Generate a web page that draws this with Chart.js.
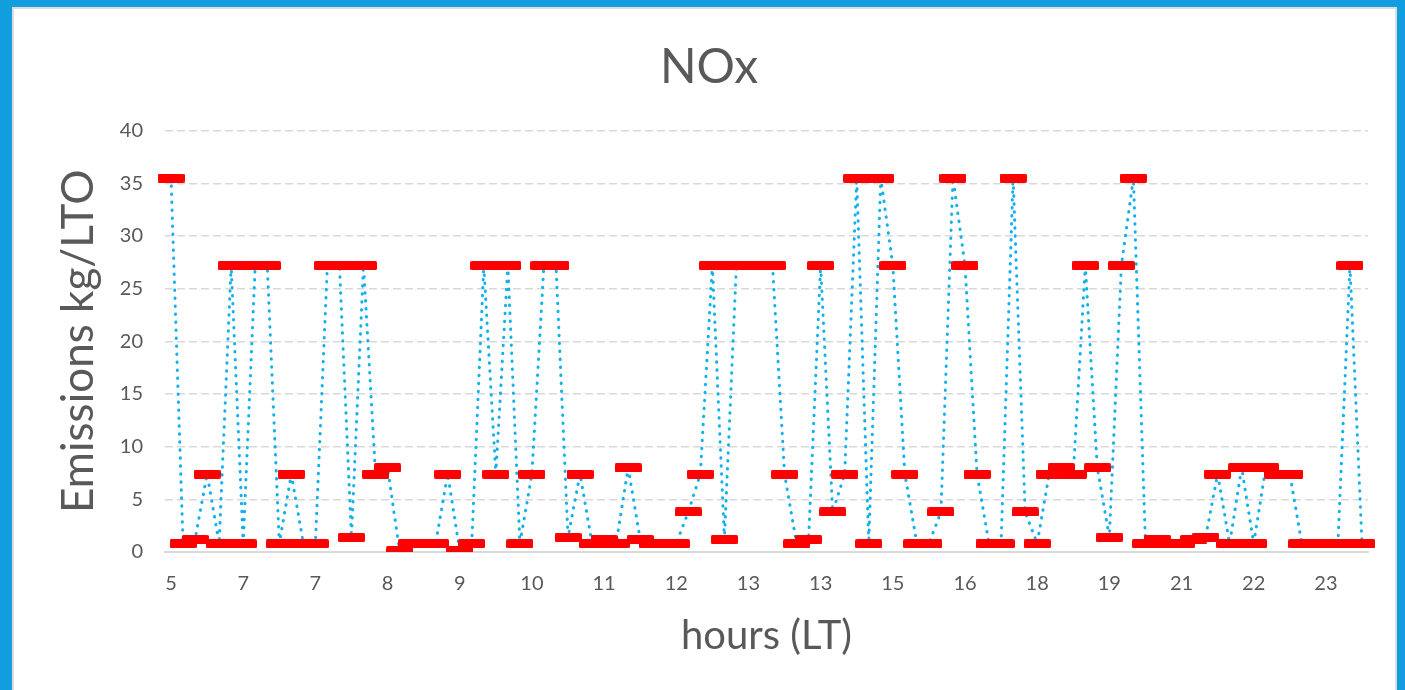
<!DOCTYPE html>
<html>
<head>
    <title>NOx</title>
    <script src="https://cdn.jsdelivr.net/npm/chart.js@4.4.1/dist/chart.umd.min.js"></script>
    <style>
        html, body { margin: 0; padding: 0; }
        body { width: 1405px; height: 690px; background: #129ddf; position: relative; overflow: hidden; }
        #panel { position: absolute; left: 12px; top: 7px; width: 1381px; height: 700px; background: #fff; border: 2px solid #dcdcdc; }
        #noxChart { position: absolute; left: 0; top: 0; }
    </style>
</head>
<body>
    <div id="panel"></div>
    <canvas id="noxChart" width="1405" height="690"></canvas>

    <script>
        // NOx emissions per LTO cycle, one value per movement
        const emissions = [
            35.5, 0.8, 1.2, 7.4, 0.8, 27.2, 0.8, 27.2, 27.2, 0.8,
            7.4, 0.8, 0.8, 27.2, 27.2, 1.4, 27.2, 7.4, 8.0, 0.1,
            0.8, 0.8, 0.8, 7.4, 0.1, 0.8, 27.2, 7.4, 27.2, 0.8,
            7.4, 27.2, 27.2, 1.4, 7.4, 0.8, 1.2, 0.8, 8.0, 1.2,
            0.8, 0.8, 0.8, 3.8, 7.4, 27.2, 1.2, 27.2, 27.2, 27.2,
            27.2, 7.4, 0.8, 1.2, 27.2, 3.8, 7.4, 35.5, 0.8, 35.5,
            27.2, 7.4, 0.8, 0.8, 3.8, 35.5, 27.2, 7.4, 0.8, 0.8,
            35.5, 3.8, 0.8, 7.4, 8.0, 7.4, 27.2, 8.0, 1.4, 27.2,
            35.5, 0.8, 1.2, 0.8, 0.8, 1.2, 1.4, 7.4, 0.8, 8.0,
            0.8, 8.0, 7.4, 7.4, 0.8, 0.8, 0.8, 0.8, 27.2, 0.8
        ];

        // hour labels shown on the axis, one every 6 movements
        const hourTicks = ['5', '7', '7', '8', '9', '10', '11', '12', '13', '13', '15', '16', '18', '19', '21', '22', '23'];
        const tickEvery = 6;

        const labels = emissions.map((v, i) => i % tickEvery === 0 ? hourTicks[i / tickEvery] : '');

        const textColor = '#595959';
        const fontFamily = 'Lato, "Open Sans", sans-serif';

        // wide flat red marker like the Excel dash marker
        const dash = document.createElement('canvas');
        dash.width = 27;
        dash.height = 9;
        const dctx = dash.getContext('2d');
        dctx.fillStyle = '#ff0000';
        dctx.beginPath();
        dctx.roundRect(0, 0, 27, 9, 1.5);
        dctx.fill();

        // chart title, centred on the panel rather than the plot
        const panelTitle = {
            id: 'panelTitle',
            afterDraw(chart) {
                const c = chart.ctx;
                c.save();
                c.fillStyle = textColor;
                c.font = '48px ' + fontFamily;
                c.textAlign = 'center';
                c.textBaseline = 'middle';
                c.fillText('NOx', 709, 68);
                c.restore();
            }
        };

        const ctx = document.getElementById('noxChart').getContext('2d');
        new Chart(ctx, {
            type: 'line',
            data: {
                labels: labels,
                datasets: [{
                    data: emissions,
                    borderColor: '#0fb0ee',
                    borderWidth: 3,
                    borderDash: [0.5, 7.5],
                    borderCapStyle: 'round',
                    tension: 0,
                    pointStyle: dash,
                    pointRadius: 6,
                    pointHoverRadius: 6
                }]
            },
            options: {
                responsive: false,
                animation: false,
                layout: { padding: { left: 0, right: 37, top: 130.6, bottom: 0 } },
                plugins: {
                    legend: { display: false },
                    tooltip: { enabled: false },
                    title: { display: false }
                },
                scales: {
                    x: {
                        offset: true,
                        grid: { display: false, drawTicks: false },
                        border: { display: true, color: '#d9d9d9', width: 2 },
                        ticks: {
                            autoSkip: false,
                            maxRotation: 0,
                            padding: 20,
                            color: textColor,
                            font: { family: fontFamily, size: 20 }
                        },
                        title: {
                            display: true,
                            text: 'hours (LT)',
                            color: textColor,
                            font: { family: fontFamily, size: 40 },
                            padding: { top: 0, bottom: 30 }
                        },
                        afterFit: (scale) => { scale.height = 138; }
                    },
                    y: {
                        min: 0,
                        max: 40,
                        grid: { color: '#d9d9d9', lineWidth: 1.5, drawTicks: false },
                        border: { display: false, dash: [8, 4] },
                        ticks: {
                            stepSize: 5,
                            padding: 22,
                            color: textColor,
                            font: { family: fontFamily, size: 20 }
                        },
                        title: {
                            display: true,
                            text: 'Emissions kg/LTO',
                            color: textColor,
                            font: { family: fontFamily, size: 44 },
                            padding: { top: 52, bottom: 0 }
                        },
                        afterFit: (scale) => { scale.width = 165; }
                    }
                }
            },
            plugins: [panelTitle]
        });
    </script>
</body>
</html>
